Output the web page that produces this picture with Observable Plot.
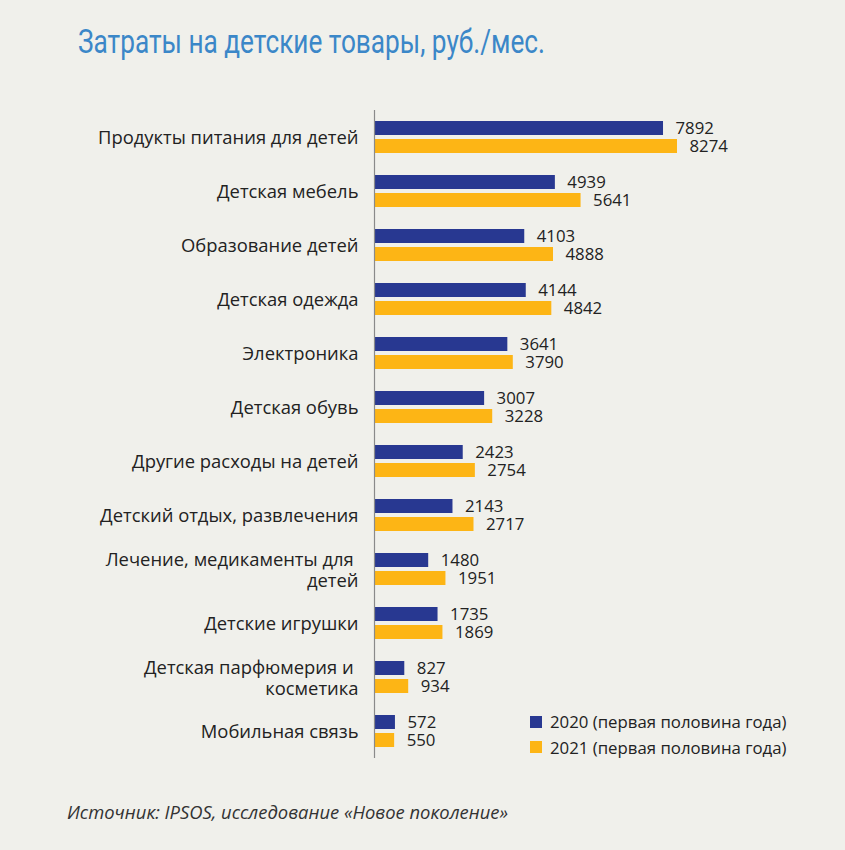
<!DOCTYPE html>
<html><head><meta charset="utf-8">
<script src="https://cdn.jsdelivr.net/npm/d3@7"></script>
<script src="https://cdn.jsdelivr.net/npm/@observablehq/plot@0.6"></script>
<style>
html,body{margin:0;padding:0;background:#f0f0eb;}
#page{position:relative;width:845px;height:850px;background:#f0f0eb;overflow:hidden;font-family:"Open Sans",sans-serif;}
#title{position:absolute;left:78px;top:22px;font-family:Roboto,sans-serif;font-size:33px;color:#3b87c8;white-space:nowrap;transform-origin:0 0;}
#chart{position:absolute;left:0;top:0;}
#legend{position:absolute;left:530px;top:709px;font-size:16.8px;color:#222;}
#legend .row{display:flex;align-items:center;height:25.5px;}
#legend .sw{width:12px;height:12px;margin-right:8px;}
#caption{position:absolute;left:67px;top:799px;font-style:italic;font-size:18.4px;color:#333;white-space:nowrap;}
</style></head>
<body><div id="page">
<div id="title">Затраты на детские товары, руб./мес.</div>
<div id="chart"></div>
<div id="legend"></div>
<div id="caption">Источник: IPSOS, исследование «Новое поколение»</div>
</div>
<script>
const categories = [
  "Продукты питания для детей",
  "Детская мебель",
  "Образование детей",
  "Детская одежда",
  "Электроника",
  "Детская обувь",
  "Другие расходы на детей",
  "Детский отдых, развлечения",
  "Лечение, медикаменты для\u00a0\nдетей",
  "Детские игрушки",
  "Детская парфюмерия и\u00a0\nкосметика",
  "Мобильная связь"
];
const series = ["2020 (первая половина года)", "2021 (первая половина года)"];
const values2020 = [7892, 4939, 4103, 4144, 3641, 3007, 2423, 2143, 1480, 1735, 827, 572];
const values2021 = [8274, 5641, 4888, 4842, 3790, 3228, 2754, 2717, 1951, 1869, 934, 550];
const colors = ["#283891", "#fdb515"];

const data = [];
categories.forEach((c, i) => {
  data.push({category: c, series: series[0], value: values2020[i]});
  data.push({category: c, series: series[1], value: values2021[i]});
});

const chart = Plot.plot({
  width: 845,
  height: 850,
  marginTop: 110,
  marginBottom: 92,
  marginLeft: 374,
  marginRight: 168,
  style: {background: "transparent", fontFamily: "'Open Sans', sans-serif", fontSize: "17px", color: "#222"},
  x: {domain: [0, 8274], axis: null},
  y: {domain: series, paddingInner: 0.222, paddingOuter: 0.611, axis: null},
  fy: {domain: categories, padding: 0, axis: null},
  color: {domain: series, range: colors},
  marks: [
    Plot.barX(data, {x: "value", y: "series", fy: "category", fill: "series"}),
    Plot.ruleX([0], {stroke: "#8a8a8a", strokeWidth: 1.2}),
    Plot.text(data, {x: "value", y: "series", fy: "category", text: d => String(d.value), dx: 12, textAnchor: "start", fill: "#222", fontSize: 16.8}),
    Plot.text(categories, {fy: d => d, text: d => d, frameAnchor: "left", dx: -16, textAnchor: "end", fill: "#222", fontSize: 18.4, lineHeight: 1.15})
  ]
});
document.getElementById("chart").appendChild(chart);

const legend = document.getElementById("legend");
series.forEach((s, i) => {
  const row = document.createElement("div");
  row.className = "row";
  row.innerHTML = `<div class="sw" style="background:${colors[i]}"></div><span>${s}</span>`;
  legend.appendChild(row);
});

const t = document.getElementById("title");
const w = t.getBoundingClientRect().width;
t.style.transform = `scaleX(${467 / w})`;
</script>
</body></html>
